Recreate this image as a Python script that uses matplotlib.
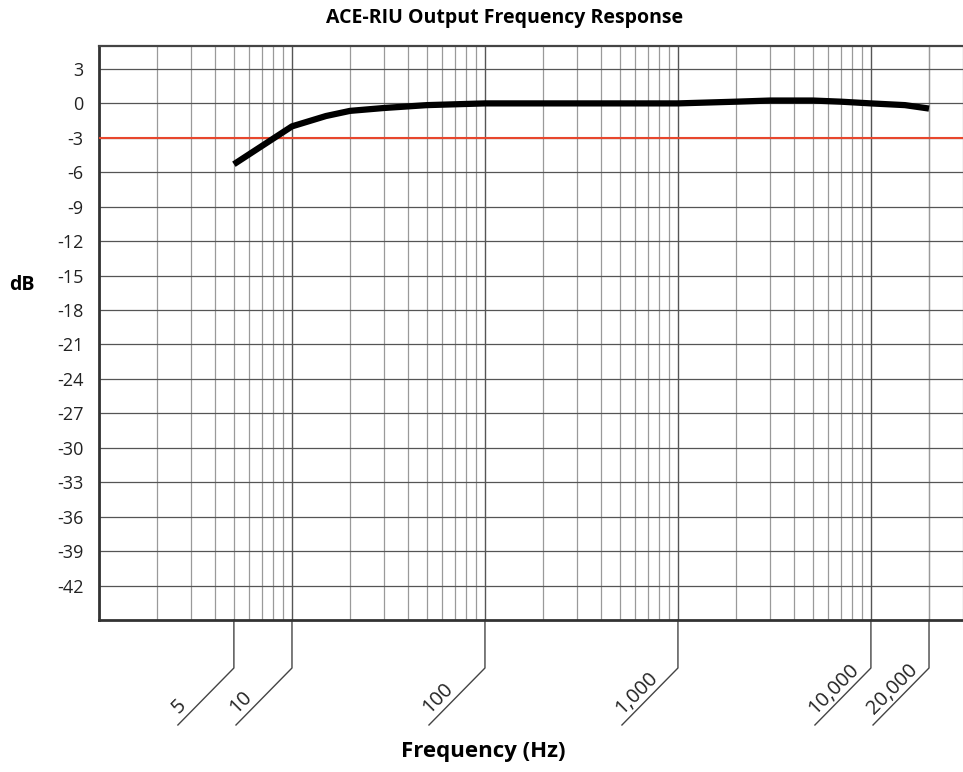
import matplotlib
matplotlib.use("Agg")
import matplotlib.pyplot as plt
from matplotlib.ticker import FixedLocator, LogLocator, NullFormatter
from matplotlib.transforms import Affine2D, ScaledTranslation, blended_transform_factory

plt.rcParams['font.family'] = ['Open Sans', 'DejaVu Sans']

# response curve
freq_hz = [5, 10, 15, 20, 30, 50, 100, 200, 500, 1000, 2000, 3000, 5000, 7000, 10000, 15000, 20000]
level_db = [-5.3, -2.0, -1.1, -0.65, -0.4, -0.15, 0.0, 0.0, 0.0, 0.0, 0.15, 0.25, 0.25, 0.15, 0.0, -0.15, -0.45]

cutoff_db = -3
y_ticks = list(range(3, -43, -3))
label_freqs = [5, 10, 100, 1000, 10000, 20000]
label_texts = ['5', '10', '100', '1,000', '10,000', '20,000']

fig = plt.figure(figsize=(9.63, 7.72), dpi=100)
ax = fig.add_axes([99 / 963, 152 / 772, 1 - 99 / 963, 574 / 772])

ax.set_xscale('log')
ax.set_xlim(1, 30000)
ax.set_ylim(-45, 5)

# grid: decades darker, 2..9 lighter, 3 dB steps horizontal
ax.xaxis.set_major_locator(LogLocator(base=10, numticks=10))
ax.xaxis.set_minor_locator(FixedLocator([m * 10 ** d for d in range(0, 5) for m in range(2, 10)] + [20000]))
ax.xaxis.set_major_formatter(NullFormatter())
ax.xaxis.set_minor_formatter(NullFormatter())
ax.yaxis.set_major_locator(FixedLocator(y_ticks))
ax.set_yticklabels([str(v) for v in y_ticks])
ax.tick_params(axis='both', which='both', length=0)
ax.tick_params(axis='y', labelsize=13, pad=11, labelcolor='#222222')
ax.grid(True, which='major', axis='y', color='#555555', lw=0.9)
ax.grid(True, which='major', axis='x', color='#555555', lw=1.0)
ax.grid(True, which='minor', axis='x', color='#9a9a9a', lw=0.9)
ax.set_axisbelow(True)

for side in ['left', 'bottom']:
    ax.spines[side].set_linewidth(2.0)
    ax.spines[side].set_color('#333333')
ax.spines['top'].set_linewidth(1.6)
ax.spines['top'].set_color('#444444')
ax.spines['right'].set_visible(False)

ax.axhline(cutoff_db, color='#e8472d', lw=1.5, zorder=3)
ax.plot(freq_hz, level_db, color='black', lw=4.5, solid_capstyle='butt', zorder=4)

# leader lines and slanted labels under the axis
base = blended_transform_factory(ax.transData, ax.transAxes)
px = Affine2D().scale(1.0)
for f, t in zip(label_freqs, label_texts):
    tr = px + ScaledTranslation(f, 0, base)
    ax.plot([0, 0, -56], [0, -48, -105], transform=tr, color='#444444', lw=1.0, clip_on=False)
    ax.annotate(t, xy=(f, 0), xycoords=base, xytext=(-52, -98), textcoords='offset pixels',
                rotation=45, rotation_mode='anchor', ha='left', va='bottom',
                fontsize=14.5, color='#222222', annotation_clip=False)

fig.text(505 / 963, 1 - 18 / 772, 'ACE-RIU Output Frequency Response', ha='center', va='center',
         fontsize=14, fontweight='bold')
fig.text(22 / 963, 1 - 285 / 772, 'dB', ha='center', va='center', fontsize=14, fontweight='bold')
fig.text(483 / 963, 1 - 752 / 772, 'Frequency (Hz)', ha='center', va='center', fontsize=16, fontweight='bold')

fig.savefig('out.png', dpi=100)
